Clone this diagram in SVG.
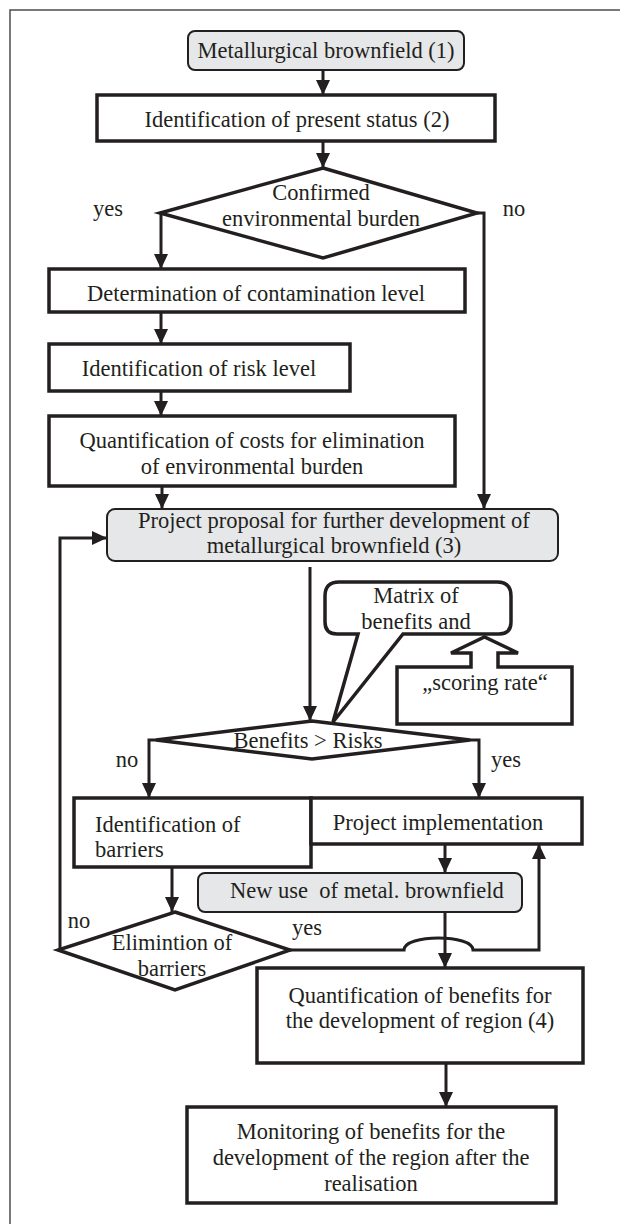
<svg xmlns="http://www.w3.org/2000/svg" width="620" height="1224" viewBox="0 0 620 1224">
<style>
text{font-family:"Liberation Serif","Times New Roman",serif;font-size:22.5px;fill:#231f20}
.m{text-anchor:middle}
.s{text-anchor:start}
.box{fill:#fff;stroke:#231f20;stroke-width:3.5}
.rbox{fill:#e6e7e8;stroke:#231f20;stroke-width:2}
.dia{fill:#fff;stroke:#231f20;stroke-width:3.5;stroke-linejoin:miter}
.c{fill:none;stroke:#231f20;stroke-width:3;stroke-linejoin:miter}
.ar{marker-end:url(#ah)}
</style>
<defs>
<marker id="ah" markerUnits="userSpaceOnUse" markerWidth="15" markerHeight="14" refX="15" refY="7" orient="auto">
<path d="M0,0 L15,7 L0,14 z" fill="#231f20"/>
</marker>
</defs>
<rect width="620" height="1224" fill="#fff"/>
<path d="M10,1224 V10 H620" fill="none" stroke="#4d4d4d" stroke-width="1.5"/>

<g id="connectors">
<path class="c ar" d="M323,70 V95"/>
<path class="c ar" d="M323,141 V168"/>
<path class="c ar" d="M160,213 H161 V269"/>
<path class="c ar" d="M477,213 H484 V509"/>
<path class="c ar" d="M161,312 V344"/>
<path class="c ar" d="M161,391 V416"/>
<path class="c ar" d="M162,480 V509"/>
<path class="c ar" d="M310,567 V721"/>
<path class="c ar" d="M156,740 H149 V798"/>
<path class="c ar" d="M470,740 H479 V798"/>
<path class="c ar" d="M172,867 V912"/>
<path class="c ar" d="M58,950 H60 V538 H107"/>
<path class="c ar" d="M445,844 V873"/>
<path class="c ar" d="M445,912 V968"/>
<path class="c ar" d="M290,950 H404 C404,934 473,934 473,950 H539 V844"/>
<path class="c ar" d="M446,1063 V1107"/>
</g>

<g id="n1"><rect class="rbox" x="188" y="31" width="276" height="39" rx="7"/><text class="m" x="326" y="58">Metallurgical brownfield (1)</text></g>
<g id="n2"><rect class="box" x="97" y="95" width="398" height="46"/><text class="m" x="297" y="127">Identification of present status (2)</text></g>
<g id="d1"><path class="dia" d="M323,168 L477,213 L323,258 L160,213 Z"/><text class="m" x="321" y="200">Confirmed</text><text class="m" x="321" y="226">environmental burden</text></g>
<g id="lbl-yes1"><text class="m" x="108" y="216">yes</text></g>
<g id="lbl-no1"><text class="m" x="514" y="216">no</text></g>
<g id="n3"><rect class="box" x="49" y="269" width="416" height="43"/><text class="m" x="256" y="301">Determination of contamination level</text></g>
<g id="n4"><rect class="box" x="49" y="344" width="301" height="47"/><text class="m" x="199" y="376">Identification of risk level</text></g>
<g id="n5"><rect class="box" x="49" y="416" width="406" height="70"/><text class="m" x="252" y="448">Quantification of costs for elimination</text><text class="m" x="252" y="474">of environmental burden</text></g>
<g id="n6"><rect class="rbox" x="107" y="509" width="451" height="52" rx="8"/><text class="m" x="334" y="528">Project proposal for further development of</text><text class="m" x="334" y="553">metallurgical brownfield (3)</text></g>
<g id="callout"><path class="dia" d="M339,582 H497 Q511,582 511,596 V622 Q511,634 499,634 H403 L333,722 L358,634 H337 Q325,634 325,622 V596 Q325,582 339,582 Z"/><text class="m" x="416" y="603">Matrix of</text><text class="m" x="416" y="629">benefits and</text></g>
<g id="scoring"><path class="dia" d="M397,667 H471 V653 H451 L484.5,637 L518,653 H498 V667 H572 V724 H397 Z"/><text class="m" x="485" y="690">„scoring rate“</text></g>
<g id="d2"><path class="dia" d="M312,721 L470,740 L312,759 L156,740 Z"/><text class="m" x="308" y="748">Benefits &gt; Risks</text></g>
<g id="lbl-no2"><text class="m" x="127" y="767">no</text></g>
<g id="lbl-yes2"><text class="m" x="506" y="767">yes</text></g>
<g id="n7"><rect class="box" x="74" y="798" width="237" height="69"/><text class="s" x="95" y="832">Identification of</text><text class="s" x="95" y="857">barriers</text></g>
<g id="n8"><rect class="box" x="311" y="798" width="271" height="46"/><text class="m" x="438" y="830">Project implementation</text></g>
<g id="n9"><rect class="rbox" x="198" y="873" width="324" height="39" rx="7"/><text class="s" x="230" y="898" style="white-space:pre">New use  of metal. brownfield</text></g>
<g id="d3"><path class="dia" d="M175,912 L290,950 L175,990 L58,950 Z"/><text class="m" x="172" y="950">Elimintion of</text><text class="m" x="172" y="976">barriers</text></g>
<g id="lbl-no3"><text class="m" x="79" y="928">no</text></g>
<g id="lbl-yes3"><text class="m" x="307" y="935">yes</text></g>
<g id="n10"><rect class="box" x="257" y="968" width="326" height="95"/><text class="m" x="420" y="1003">Quantification of benefits for</text><text class="m" x="420" y="1028">the development of region (4)</text></g>
<g id="n11"><rect class="box" x="187" y="1107" width="369" height="96"/><text class="m" x="371" y="1139">Monitoring of benefits for the</text><text class="m" x="371" y="1165">development of the region after the</text><text class="m" x="371" y="1191">realisation</text></g>
</svg>
